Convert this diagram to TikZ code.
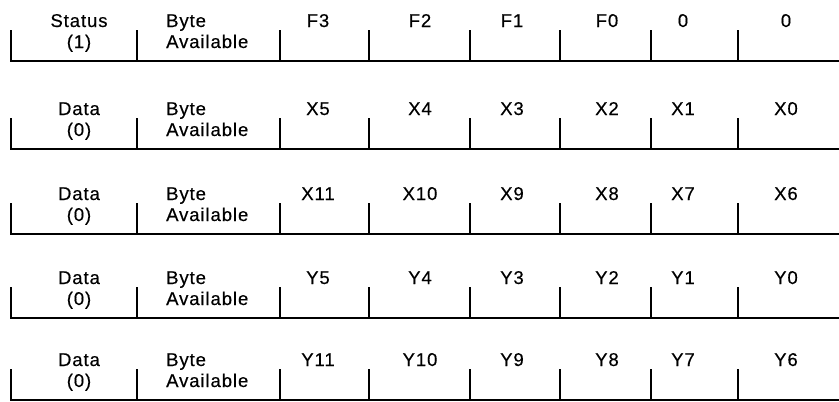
\documentclass[tikz,border=0pt]{standalone}
\usepackage{fontspec}
\setmainfont{Liberation Sans}[LetterSpace=5,FakeBold=0.4]
\begin{document}
\begin{tikzpicture}[x=1pt,y=-1pt,
  lbl/.style={font=\fontsize{18.5}{22}\selectfont, inner sep=0pt, anchor=base},
  rule/.style={line width=1.5pt},
  base/.style={line width=1.8pt}]
\useasboundingbox (0,0) rectangle (839,402);
\foreach \yb/\nm/\vv/\lA/\lB/\lC/\lD/\lE/\lF [count=\rw] in {
  61/Status/1/F3/F2/F1/F0/0/0,
  149/Data/0/X5/X4/X3/X2/X1/X0,
  234/Data/0/X11/X10/X9/X8/X7/X6,
  318/Data/0/Y5/Y4/Y3/Y2/Y1/Y0,
  400/Data/0/Y11/Y10/Y9/Y8/Y7/Y6}{
  \coordinate (r\rw-s) at (10,\yb);
  \coordinate (r\rw-e) at (839,\yb);
  \draw[base] (r\rw-s) -- (r\rw-e);
  \foreach \xt [count=\k] in {11,137,280,369,470,560,651,738}{
    \coordinate (r\rw-t\k) at (\xt,\yb);
    \coordinate (r\rw-u\k) at (\xt,\yb-31);
    \draw[rule] (r\rw-t\k) -- (r\rw-u\k);
  }
  \node[lbl] (r\rw-n) at (79,\yb-34) {\nm};
  \node[lbl] (r\rw-v) at (79,\yb-13) {(\vv)};
  \node[lbl,anchor=base west] (r\rw-by) at (166,\yb-34) {Byte};
  \node[lbl,anchor=base west] (r\rw-av) at (166,\yb-13) {Available};
  \node[lbl] (r\rw-a) at (318,\yb-34) {\lA};
  \node[lbl] (r\rw-b) at (420,\yb-34) {\lB};
  \node[lbl] (r\rw-c) at (512,\yb-34) {\lC};
  \node[lbl] (r\rw-d) at (607,\yb-34) {\lD};
  \node[lbl] (r\rw-f) at (683,\yb-34) {\lE};
  \node[lbl] (r\rw-g) at (786,\yb-34) {\lF};
}
\end{tikzpicture}
\end{document}
